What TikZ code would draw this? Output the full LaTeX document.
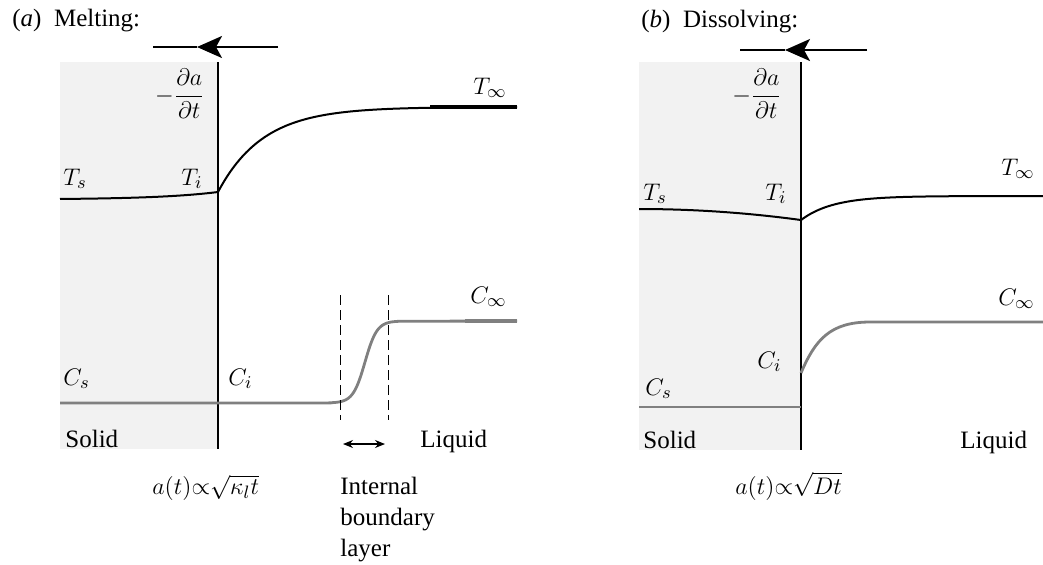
\documentclass[tikz,border=0pt]{standalone}
\usepackage{amsmath}
\usepackage{fontspec}
\setmainfont{Liberation Serif}
\usetikzlibrary{arrows.meta}

\begin{document}
\begin{tikzpicture}[x=0.5pt,y=-0.5pt,
	lbl/.style={inner sep=0pt,anchor=base west,font=\fontsize{12.5pt}{15.5pt}\selectfont},
	solidbox/.style={fill=gray!10},
	iface/.style={black,line width=1pt},
	tcurve/.style={black,line width=1pt},
	ccurve/.style={black!50,line width=1.4pt},
	bdry/.style={black,line width=0.5pt,dash pattern=on 5pt off 2.5pt},
	front/.style={black,line width=1pt},
	fronttip/.style={-{Stealth[length=12.5pt,width=11pt,inset=3pt]}}]
	\def\Tlow{192}    % T at the front (a)
	\def\Thigh{107}   % far field T (a)
	\def\Clow{403}
	\def\Chigh{321}

\useasboundingbox (0,0) rectangle (1043,564);

% ---------------- (a) melting
\fill[solidbox] (60,62) rectangle (218,449);
\draw[iface] (218,62) -- (218,449);

\coordinate (frontA0) at (278,47);
\coordinate (frontA1) at (197,47);
\coordinate (frontA2) at (153,47);
\draw[front,fronttip] (frontA0) -- (frontA1);
\draw[front] (frontA1) -- (frontA2);

% temperature
\draw[tcurve] plot[domain=60:218,samples=30] (\x,{199.5-7.5*exp((\x-218)/60)})
	-- plot[domain=218:430,samples=70] (\x,{\Thigh+85*exp(-(\x-218)/45)})
	-- (517,\Thigh);
\draw[tcurve,line width=2pt] (430,\Thigh) -- (517,\Thigh);

% concentration
\draw[ccurve] (60,\Clow) -- (330,\Clow)
	-- plot[domain=330:400,samples=60] (\x,{\Clow-82/(1+exp(-(\x-365)/6))})
	-- (517,\Chigh);
\draw[ccurve,line width=2.2pt] (465,\Chigh) -- (517,\Chigh);

% boundary layer
\coordinate (blA) at (340,444);
\coordinate (blB) at (388,444);
\draw[bdry] (340,295) -- (340,420);
\draw[bdry] (388,295) -- (388,420);
\draw[line width=0.6pt,{Stealth[length=5pt,width=4pt]}-{Stealth[length=5pt,width=4pt]}]
	([xshift=1.5pt]blA) -- ([xshift=-1.5pt]blB);

\node[lbl] (titleA) at (12,26) {(\textit{a})\enspace Melting:};
\node[lbl,anchor=center] (rateA) at (180,94) {$-\dfrac{\partial a}{\partial t}$};
\node[lbl] (TsA) at (63,185) {$T_s$};
\node[lbl] (TiA) at (181,185) {$T_i$};
\node[lbl] (TinfA) at (473,94) {$T_\infty$};
\node[lbl] (CsA) at (63,385) {$C_s$};
\node[lbl] (CiA) at (228,385) {$C_i$};
\node[lbl] (CinfA) at (470,303) {$C_\infty$};
\node[lbl] (solidA) at (65,447) {Solid};
\node[lbl] (liquidA) at (420,447) {Liquid};
\node[lbl] (lawA) at (152,494) {$a(t){\propto}\sqrt{\kappa_l t}$};
\node[lbl,anchor=north west,align=left] (ibl) at (340,477) {Internal\\boundary\\layer};

% ---------------- (b) dissolving
\fill[solidbox] (639,62) rectangle (801,450);
\draw[iface] (801,62) -- (801,450);

\coordinate (frontB0) at (867,50);
\coordinate (frontB1) at (785,50);
\coordinate (frontB2) at (740,50);
\draw[front,fronttip] (frontB0) -- (frontB1);
\draw[front] (frontB1) -- (frontB2);

% temperature
\draw[tcurve] plot[domain=639:801,samples=30] (\x,{209+11*((\x-639)/162)^2})
	-- plot[domain=801:1000,samples=60] (\x,{196+24*exp(-(\x-801)/32)})
	-- (1043,196);

% concentration
\draw[ccurve] (639,407) -- (801,407);
\draw[ccurve] (801,373) .. controls (815,340) and (830,322) .. (870,322) -- (1043,322);

\node[lbl] (titleB) at (641,27) {(\textit{b})\enspace Dissolving:};
\node[lbl,anchor=center] (rateB) at (757,94) {$-\dfrac{\partial a}{\partial t}$};
\node[lbl] (TsB) at (643,200) {$T_s$};
\node[lbl] (TiB) at (765,200) {$T_i$};
\node[lbl] (TinfB) at (1001,175) {$T_\infty$};
\node[lbl] (CsB) at (645,395) {$C_s$};
\node[lbl] (CiB) at (757,368) {$C_i$};
\node[lbl] (CinfB) at (998,305) {$C_\infty$};
\node[lbl] (solidB) at (643,448) {Solid};
\node[lbl] (liquidB) at (960,448) {Liquid};
\node[lbl] (lawB) at (735,494) {$a(t){\propto}\sqrt{Dt}$};

\end{tikzpicture}
\end{document}
